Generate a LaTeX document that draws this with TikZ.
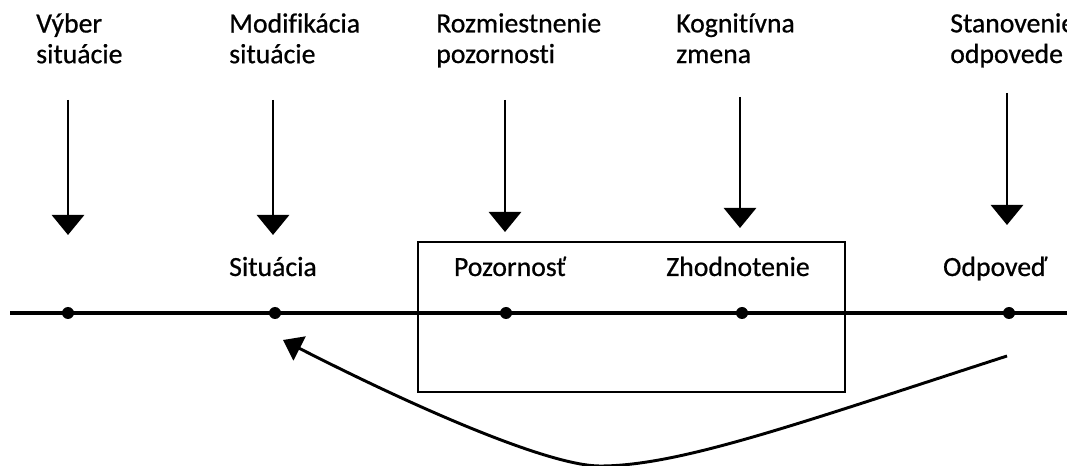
\documentclass[tikz,border=0pt]{standalone}
\usepackage{fontspec}
\setmainfont{Carlito}[Ligatures=NoCommon, FakeBold=0.7]
\usetikzlibrary{arrows.meta}
\tikzset{
  axis/.style={draw=black, line width=2.6pt},
  frame/.style={draw=black, line width=1.9pt},
  push/.style={draw=black, line width=2.2pt, -{Triangle[width=24pt,length=15pt]}},
  back/.style={draw=black, line width=2.2pt, -{Triangle[width=20pt,length=14pt]}},
  pt/.style={circle, fill=black, inner sep=0pt, minimum size=9pt},
  lab/.style={font=\fontsize{20.8}{23}\selectfont, inner sep=0pt, anchor=base},
  toplab/.style={lab, align=left, anchor=north west},
}

\begin{document}
\begin{tikzpicture}[x=0.75pt, y=-0.75pt]
  \useasboundingbox (0,0) rectangle (1067,466);

  % time line with the five stages
  \coordinate (L) at (10,313);
  \coordinate (R) at (1067,313);
  \draw[axis] (L) -- (R);
  \node[pt] (vyber) at (68,313) {};
  \node[pt] (situacia) at (275,313) {};
  \node[pt] (pozornost) at (506,313) {};
  \node[pt] (zhodnotenie) at (742,313) {};
  \node[pt] (odpoved) at (1009,313) {};

  % box round attention and appraisal
  \draw[frame] (418,242) rectangle (845,392);

  \node[lab] (tsit) at (273,276) {Situácia};
  \node[lab] (tpoz) at (510,276) {Pozornosť};
  \node[lab] (tzho) at (738,276) {Zhodnotenie};
  \node[lab] (todp) at (995,276) {Odpoveď};

  % strategies above
  \node[toplab] (s1) at (36,13) {Výber\\situácie};
  \node[toplab] (s2) at (229,13) {Modifikácia\\situácie};
  \node[toplab] (s3) at (436,13) {Rozmiestnenie\\pozornosti};
  \node[toplab] (s4) at (676,13) {Kognitívna\\zmena};
  \node[toplab] (s5) at (950,13) {Stanovenie\\odpovede};

  \coordinate (a1) at (68,100);   \coordinate (b1) at (68,235);
  \coordinate (a2) at (273,100);  \coordinate (b2) at (273,235);
  \coordinate (a3) at (505,100);  \coordinate (b3) at (505,232);
  \coordinate (a4) at (740,97);   \coordinate (b4) at (740,228);
  \coordinate (a5) at (1007,93);  \coordinate (b5) at (1007,225);
  \draw[push] (a1) -- (b1);
  \draw[push] (a2) -- (b2);
  \draw[push] (a3) -- (b3);
  \draw[push] (a4) -- (b4);
  \draw[push] (a5) -- (b5);

  % feedback from response back to situation
  \coordinate (fb0) at (1007,356);
  \coordinate (fbm) at (600,466);
  \coordinate (fb1) at (283,340);
  \draw[back] (fb0) .. controls (800,423) and (680,466) .. (fbm)
    .. controls (550,466) and (420,410) .. (fb1);
\end{tikzpicture}
\end{document}
